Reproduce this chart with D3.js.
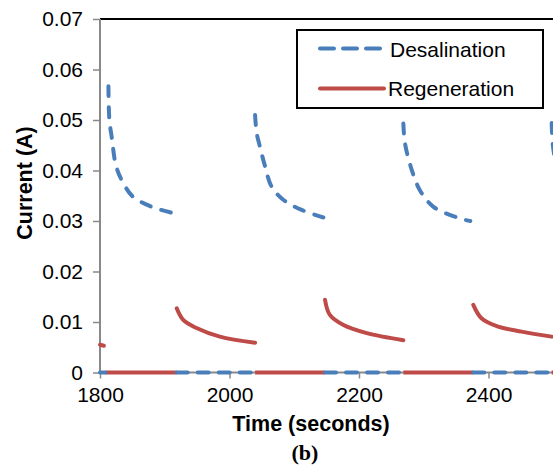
<!DOCTYPE html>
<html>
<head>
<meta charset="utf-8">
<script src="https://cdnjs.cloudflare.com/ajax/libs/d3/7.8.5/d3.min.js"></script>
<style>
	body { margin: 0; background: #fff; }
	text { font-family: Arial, "Liberation Sans", sans-serif; fill: #000; }
</style>
</head>
<body>
<script>
const WIDTH = 553;
const HEIGHT = 468;
const LEFT = 100;
const TOP = 19;
const BOTTOM = 372.5;
const RIGHT = 618; // plot runs past the cropped right edge

const BLUE = '#4a7ebb';
const RED = '#be4b48';

var xTicks = [1800, 2000, 2200, 2400];
var yTicks = [0, 0.01, 0.02, 0.03, 0.04, 0.05, 0.06, 0.07];

// desalination current while charging, one array per cycle [time, amps]
var desalination1 = [[1813,0.0567],[1814.5,0.050],[1818,0.0467],[1825,0.0408],[1836,0.0375],[1851,0.0348],[1880,0.0328],[1918,0.0314]];
var desalination2 = [[2039.5,0.0510],[2042,0.0474],[2047,0.0447],[2055,0.0408],[2065,0.0368],[2083,0.0342],[2111.5,0.0322],[2145,0.0307]];
var desalination3 = [[2268.5,0.0493],[2271,0.0454],[2281.5,0.0401],[2294,0.0361],[2315,0.0328],[2356,0.0305],[2372,0.0300]];
var desalination4 = [[2497.6,0.0494],[2499,0.0455],[2503,0.042],[2510,0.038],[2522,0.035],[2540,0.033],[2570,0.031],[2600,0.030]];

// regeneration current while discharging
var regeneration0 = [[1800,0.0055],[1806,0.0053]];
var regeneration1 = [[1918.5,0.0127],[1928.5,0.0104],[1949,0.0088],[1985,0.0071],[2039.5,0.0059]];
var regeneration2 = [[2147.5,0.0144],[2155,0.0114],[2176,0.0094],[2212,0.0078],[2268.5,0.0064]];
var regeneration3 = [[2376.5,0.0134],[2389.5,0.0107],[2415,0.0091],[2451,0.0081],[2497.6,0.0071]];

// spans where each series sits at zero
var desalinationZero = [[1800,1808],[1918.5,2039.5],[2147.5,2268.5],[2376.5,2497.6]];
var regenerationZero = [[1808,1918.5],[2039.5,2147.5],[2268.5,2376.5],[2497.6,2600]];

var drawChart = function(){
	var svg = d3.select('body')
		.append('svg')
		.attr('width', WIDTH)
		.attr('height', HEIGHT);

	var xScale = d3.scaleLinear().domain([1800, 2600]).range([LEFT, RIGHT]);
	var yScale = d3.scaleLinear().domain([0, 0.07]).range([BOTTOM, TOP]);

	// top border of plot area
	svg.append('line')
		.attr('x1', LEFT).attr('x2', RIGHT)
		.attr('y1', TOP).attr('y2', TOP)
		.attr('stroke', '#000').attr('stroke-width', 2);

	var yAxis = d3.axisLeft(yScale).tickValues(yTicks).tickSize(7).tickPadding(10)
		.tickFormat(function(d){ return d === 0 ? '0' : d3.format('.2f')(d); });
	var gy = svg.append('g')
		.attr('transform', 'translate(' + LEFT + ',0)')
		.call(yAxis);

	var xAxis = d3.axisBottom(xScale).tickValues(xTicks).tickSize(6).tickPadding(9)
		.tickFormat(d3.format('d'));
	var gx = svg.append('g')
		.attr('transform', 'translate(0,' + BOTTOM + ')')
		.call(xAxis);

	[gx, gy].forEach(function(g){
		g.select('.domain').attr('stroke', '#898989').attr('stroke-width', 2);
		g.selectAll('.tick line').attr('stroke', '#898989').attr('stroke-width', 1.5);
		g.selectAll('.tick text').attr('font-size', 21).attr('fill', '#000')
			.attr('font-family', 'Arial, "Liberation Sans", sans-serif');
	});
	gx.select('.domain').attr('d', 'M' + LEFT + ',0H' + RIGHT);
	gy.select('.domain').attr('d', 'M0,' + BOTTOM + 'V' + TOP);

	var line = d3.line()
		.x(function(d){ return xScale(d[0]); })
		.y(function(d){ return yScale(d[1]); })
		.curve(d3.curveCatmullRom.alpha(0.5));

	var plot = svg.append('g');

	// zero stretches
	plot.selectAll('line.rz')
		.data(regenerationZero)
		.enter().append('line')
		.attr('x1', function(d){ return xScale(d[0]); })
		.attr('x2', function(d){ return xScale(d[1]); })
		.attr('y1', yScale(0)).attr('y2', yScale(0))
		.attr('stroke', RED).attr('stroke-width', 4);

	plot.selectAll('line.dz')
		.data(desalinationZero)
		.enter().append('line')
		.attr('x1', function(d){ return xScale(d[0]); })
		.attr('x2', function(d){ return xScale(d[1]); })
		.attr('y1', yScale(0)).attr('y2', yScale(0))
		.attr('stroke', BLUE).attr('stroke-width', 4)
		.attr('stroke-linecap', 'round')
		.attr('stroke-dasharray', '11,10');

	plot.selectAll('path.regen')
		.data([regeneration0, regeneration1, regeneration2, regeneration3])
		.enter().append('path')
		.attr('d', line)
		.attr('fill', 'none')
		.attr('stroke', RED).attr('stroke-width', 4)
		.attr('stroke-linecap', 'round');

	plot.selectAll('path.desal')
		.data([desalination1, desalination2, desalination3, desalination4])
		.enter().append('path')
		.attr('d', line)
		.attr('fill', 'none')
		.attr('stroke', BLUE).attr('stroke-width', 4)
		.attr('stroke-linecap', 'round')
		.attr('stroke-dasharray', '10,11');

	// legend
	var legend = svg.append('g');
	legend.append('rect')
		.attr('x', 297).attr('y', 30)
		.attr('width', 246).attr('height', 78)
		.attr('fill', '#fff').attr('stroke', '#000').attr('stroke-width', 2);
	legend.append('line')
		.attr('x1', 320).attr('x2', 380).attr('y1', 48.5).attr('y2', 48.5)
		.attr('stroke', BLUE).attr('stroke-width', 4)
		.attr('stroke-linecap', 'round').attr('stroke-dasharray', '14,9');
	legend.append('text').attr('x', 390).attr('y', 56.5)
		.attr('font-size', 21).text('Desalination');
	legend.append('line')
		.attr('x1', 320).attr('x2', 384).attr('y1', 88.5).attr('y2', 88.5)
		.attr('stroke', RED).attr('stroke-width', 4)
		.attr('stroke-linecap', 'round');
	legend.append('text').attr('x', 388).attr('y', 96)
		.attr('font-size', 21).text('Regeneration');

	// titles
	svg.append('text')
		.attr('x', 311).attr('y', 430.5)
		.attr('text-anchor', 'middle')
		.attr('font-size', 21.5).attr('font-weight', 'bold')
		.text('Time (seconds)');

	svg.append('text')
		.attr('transform', 'translate(32,183) rotate(-90)')
		.attr('text-anchor', 'middle')
		.attr('font-size', 21.5).attr('font-weight', 'bold')
		.text('Current (A)');

	svg.append('text')
		.attr('x', 305).attr('y', 460)
		.attr('text-anchor', 'middle')
		.attr('font-size', 22).attr('font-weight', 'bold')
		.style('font-family', '"Liberation Serif", "Times New Roman", serif')
		.text('(b)');
}

window.onload = function(){
	drawChart();
}
</script>
</body>
</html>
